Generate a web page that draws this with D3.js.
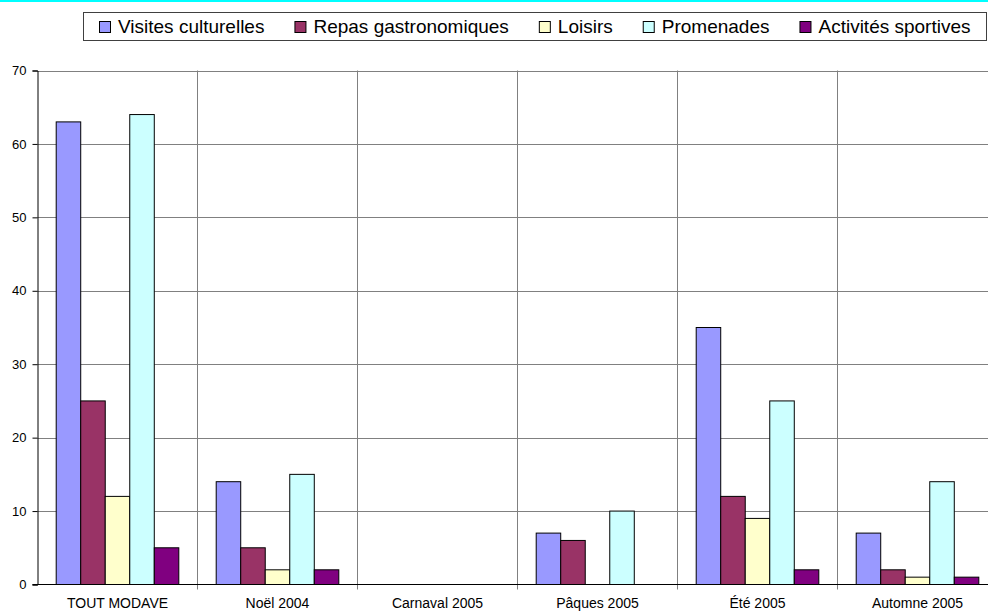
<!DOCTYPE html>
<html>
<head>
<meta charset="utf-8">
<script src="https://cdn.jsdelivr.net/npm/d3@7"></script>
<style>
  body { margin: 0; background: #fff; }
  svg { display: block; font-family: Arial, "Liberation Sans", sans-serif; }
</style>
</head>
<body>
<svg id="chart" width="988" height="612"></svg>
<script>
/* data */
var periods = ["TOUT MODAVE", "Noël 2004", "Carnaval 2005", "Pâques 2005", "Été 2005", "Automne 2005"];
var seriesNames = ["Visites culturelles", "Repas gastronomiques", "Loisirs", "Promenades", "Activités sportives"];
var seriesColors = ["#9999ff", "#993366", "#ffffcc", "#ccffff", "#800080"];
var visites = [63, 14, 0, 7, 35, 7];
var repas = [25, 5, 0, 6, 12, 2];
var loisirs = [12, 2, 0, 0, 9, 1];
var promenades = [64, 15, 0, 10, 25, 14];
var sportives = [5, 2, 0, 0, 2, 1];
var yTicks = [0, 10, 20, 30, 40, 50, 60, 70];

var allSeries = [visites, repas, loisirs, promenades, sportives];

var svg = d3.select("#chart");

// top cyan rule
svg.append("rect").attr("x", 0).attr("y", 0).attr("width", 988).attr("height", 2).attr("fill", "#00ffff");

/* scales */
var plotLeft = 37.5, plotTop = 70.5, plotBottom = 584.5;
var x0 = d3.scaleBand().domain(periods).range([plotLeft, plotLeft + 6 * 160]);
var x1 = d3.scaleBand().domain(d3.range(5)).range([18.7, 141.3]);
var y = d3.scaleLinear().domain([0, 70]).range([plotBottom, plotTop]);

/* grid */
var grid = svg.append("g");
grid.selectAll("line.h").data(yTicks.slice(1)).enter().append("line")
  .attr("x1", plotLeft).attr("x2", 988)
  .attr("y1", function(d){ return Math.round(y(d)) + 0.5; })
  .attr("y2", function(d){ return Math.round(y(d)) + 0.5; })
  .attr("stroke", "#808080").attr("stroke-width", 1);
grid.selectAll("line.v").data(periods.slice(1)).enter().append("line")
  .attr("x1", function(d){ return Math.round(x0(d)) - 0.5; })
  .attr("x2", function(d){ return Math.round(x0(d)) - 0.5; })
  .attr("y1", plotTop).attr("y2", plotBottom + 5)
  .attr("stroke", "#808080").attr("stroke-width", 1);

/* bars */
var groups = svg.append("g").selectAll("g").data(periods).enter().append("g")
  .attr("transform", function(d){ return "translate(" + x0(d) + ",0)"; });
groups.selectAll("rect")
  .data(function(d, i){ return allSeries.map(function(s, k){ return {k: k, v: s[i]}; }).filter(function(e){ return e.v > 0; }); })
  .enter().append("rect")
  .attr("x", function(d){ return x1(d.k); })
  .attr("width", x1.bandwidth())
  .attr("y", function(d){ return y(d.v); })
  .attr("height", function(d){ return y(0) - y(d.v); })
  .attr("fill", function(d){ return seriesColors[d.k]; })
  .attr("stroke", "#000").attr("stroke-width", 1);

/* axes */
var yAxis = svg.append("g").attr("transform", "translate(" + plotLeft + ",0)")
  .call(d3.axisLeft(y).tickValues(yTicks).tickSize(5).tickPadding(6));
yAxis.select(".domain").attr("stroke", "#000");
yAxis.selectAll(".tick line").attr("stroke", "#000");
yAxis.selectAll("text").attr("font-size", 13).attr("font-family", "Arial, 'Liberation Sans', sans-serif").attr("fill", "#000");

svg.append("line").attr("x1", plotLeft - 5).attr("x2", 988).attr("y1", plotBottom).attr("y2", plotBottom)
  .attr("stroke", "#000");

svg.append("g").selectAll("text").data(periods).enter().append("text")
  .attr("x", function(d){ return x0(d) + x0.bandwidth() / 2; })
  .attr("y", 608)
  .attr("text-anchor", "middle")
  .attr("font-size", 14)
  .text(function(d){ return d; });

/* legend */
var legend = svg.append("g");
legend.append("rect").attr("x", 83.5).attr("y", 12.5).attr("width", 903).attr("height", 28)
  .attr("fill", "#fff").attr("stroke", "#404040");
var lx = 99;
seriesNames.forEach(function(name, k){
  legend.append("rect").attr("x", lx + 0.5).attr("y", 21.5).attr("width", 11).attr("height", 11)
    .attr("fill", seriesColors[k]).attr("stroke", "#000");
  var t = legend.append("text").attr("x", lx + 19).attr("y", 33).attr("font-size", 19).text(name);
  lx += 19 + t.node().getComputedTextLength() + 30;
});
</script>
</body>
</html>
